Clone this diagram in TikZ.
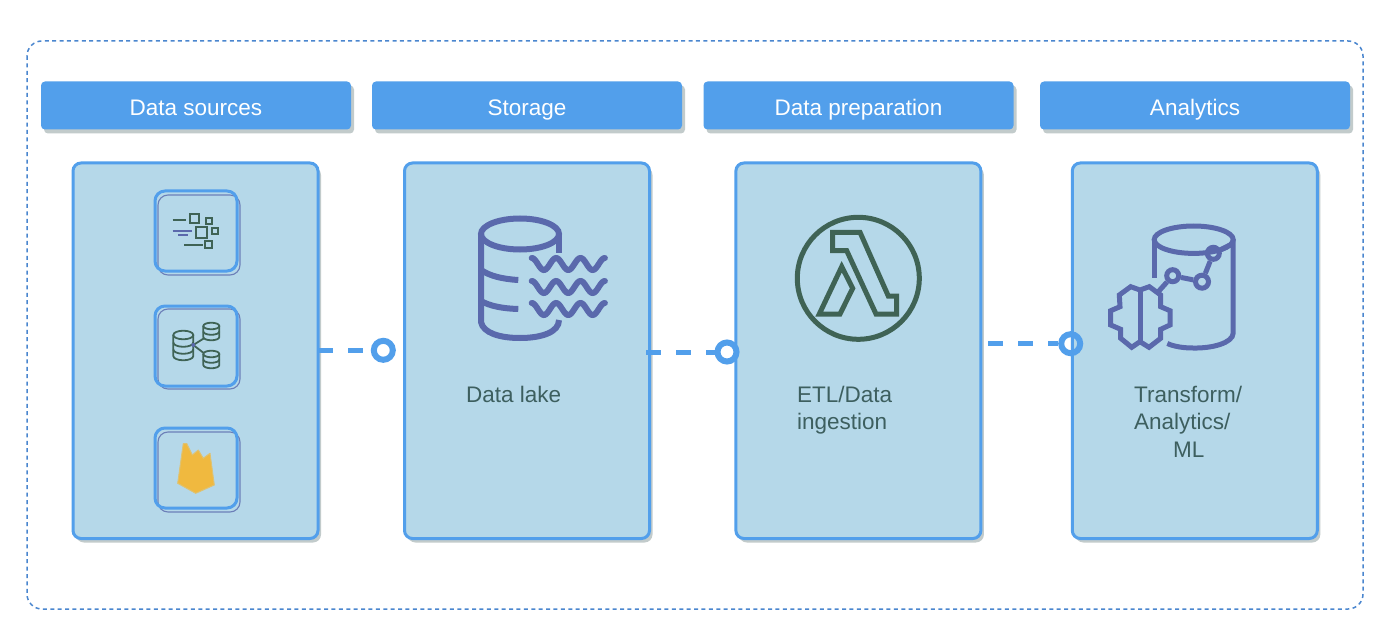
\documentclass[tikz,border=0pt]{standalone}
\usepackage{fontspec}
\setmainfont{Liberation Sans}
\usetikzlibrary{shadows}
\definecolor{hblue}{HTML}{529FEB}
\definecolor{pane}{HTML}{B5D8E9}
\definecolor{iconblue}{HTML}{5A69AC}
\definecolor{icongreen}{HTML}{3F6355}
\definecolor{flame}{HTML}{F0B93F}
\definecolor{shade}{HTML}{C2CBCB}
\definecolor{dashblue}{HTML}{4A86CF}
\definecolor{inktext}{HTML}{3D5F5F}
\tikzset{
  x=1pt,y=-1pt,
  header/.style={rectangle,rounded corners=4pt,fill=hblue,minimum width=310pt,minimum height=48pt,inner sep=0pt,text=white,text height=21pt,text depth=0pt,font=\fontsize{22.5}{27}\selectfont,general shadow={shadow xshift=3pt,shadow yshift=-4pt,fill=shade}},
  panel/.style={rectangle,rounded corners=8pt,draw=hblue,line width=3pt,fill=pane,minimum width=245pt,minimum height=375.5pt,inner sep=0pt,general shadow={shadow xshift=3pt,shadow yshift=-4pt,fill=shade}},
  iconbox/.style={rectangle,rounded corners=10pt,draw=hblue,line width=3pt,minimum width=82pt,minimum height=80pt,inner sep=0pt},
  iconback/.style={rectangle,rounded corners=10pt,draw=iconblue!80!pane,line width=1.1pt,minimum width=82pt,minimum height=80pt,inner sep=0pt},
  label/.style={text=inktext,font=\fontsize{22.5}{27.5}\selectfont,inner sep=0pt},
  link/.style={draw=hblue,line width=5pt,dash pattern=on 15pt off 15pt},
  port/.style={circle,draw=hblue,line width=6pt,minimum size=19pt,inner sep=0pt},
  thickblue/.style={draw=iconblue,line width=6pt,line cap=butt},
  thickgreen/.style={draw=icongreen,line width=5pt,line join=miter},
  smallgreen/.style={draw=icongreen,line width=2pt},
  smallblue/.style={draw=iconblue,line width=2pt},
  ringnode/.style={draw=iconblue,line width=5pt,circle,inner sep=0pt},
}
\begin{document}
\begin{tikzpicture}
\useasboundingbox (0,0) rectangle (1400,631);
\fill[white] (0,0) rectangle (1400,631);
\draw[dashblue,line width=1.5pt,rounded corners=15pt,dash pattern=on 4pt off 3.4pt] (27,41) rectangle (1363,609);

\node[header] (h1) at (196,105.5) {Data sources};
\node[header] (h2) at (527,105.5) {Storage};
\node[header] (h3) at (858.5,105.5) {Data preparation};
\node[header] (h4) at (1195,105.5) {Analytics};

\node[panel] (p1) at (195.5,350.75) {};
\node[panel] (p2) at (527,350.75) {};
\node[panel] (p3) at (858.4,350.75) {};
\node[panel] (p4) at (1194.8,350.75) {};

% icon boxes
\node[iconback] (b1s) at (199,235) {};
\node[iconback] (b2s) at (199,349) {};
\node[iconback] (b3s) at (199,472) {};
\node[iconbox] (b1) at (196,231) {};
\node[iconbox] (b2) at (196,346) {};
\node[iconbox] (b3) at (196,468) {};

% stream icon
\draw[smallgreen] (172.7,220)--(186,220);
\draw[smallgreen] (190,214.3) rectangle (199,223.3);
\draw[smallgreen] (206.3,218.3) rectangle (212.3,224.3);
\draw[smallblue] (172.7,231)--(192.3,231);
\draw[smallblue] (178.3,235.3)--(188.3,235.3);
\draw[smallgreen] (196.3,227.3) rectangle (206.7,237.7);
\draw[smallgreen] (211.7,228.3) rectangle (217.7,234.3);
\draw[smallgreen] (184,244.7)--(202.7,244.7);
\draw[smallgreen] (205.3,241.3) rectangle (212.3,248.3);

% databases icon
\begin{scope}[draw=icongreen,line width=1.8pt]
\draw (183.3,335) ellipse [x radius=10,y radius=4.3];
\draw (173.3,335)--(173.3,356) arc[start angle=180,end angle=360,x radius=10,y radius=-4.3]--(193.3,335);
\draw (173.3,342.5) arc[start angle=180,end angle=360,x radius=10,y radius=-4.3];
\draw (173.3,349.5) arc[start angle=180,end angle=360,x radius=10,y radius=-4.3];
\foreach \cy in {326,354}{
  \draw (211.3,\cy) ellipse [x radius=8,y radius=3.3];
  \draw (203.3,\cy)--(203.3,\cy+11) arc[start angle=180,end angle=360,x radius=8,y radius=-3.3]--(219.3,\cy);
  \draw (203.3,\cy+5.5) arc[start angle=180,end angle=360,x radius=8,y radius=-3.3];
}
\draw (193.3,345)--(204,338.3);
\draw (193.3,345)--(203.3,352.7);
\end{scope}
\fill[iconblue] (193.3,345) circle [radius=2];

% flame
\fill[flame,draw=flame!70!pane,line width=1pt,line join=round] (177.7,483.3)--(183.3,443.5)--(186.7,443.5)--(192.3,455)--(198.3,450)--(203.3,458.3)--(210,453.3)--(214.3,485)--(195.7,493.3)--cycle;

% data lake icon
\begin{scope}[thickblue]
\draw (520,234) ellipse [x radius=39,y radius=15.5];
\draw (481,234)--(481,322) .. controls (483,333) and (500,338) .. (520,338) .. controls (542,338) and (559,332) .. (559,320);
\draw (559,234)--(559,253);
\draw (481,270) .. controls (490,276) and (502,279) .. (518.3,280);
\draw (481,301) .. controls (490,306) and (502,308.5) .. (518.3,309);
\foreach \wy in {264,287,309}
  \draw[line cap=round] plot[domain=0:3,samples=80,smooth] ({531.7+24.4*\x},{\wy-6*cos(360*\x)});
\end{scope}

% lambda icon
\begin{scope}[thickgreen]
\draw (858.3,278.3) circle [radius=61];
\draw (832.7,232.3)--(860,232.3)--(888.3,296)--(896.7,296)--(896.7,314)--(876,314)--(846.7,250.7)--(832.7,250.7)--cycle;
\draw (841.7,266.7)--(852.7,288.3)--(840,314)--(819.3,314)--cycle;
\end{scope}

% analytics icon
\begin{scope}[draw=iconblue,line width=5pt]
\draw (1193.7,239.7) ellipse [x radius=39.5,y radius=13.7];
\draw (1154.2,239.7)--(1154.2,278);
\draw (1233.2,239.7)--(1233.2,333) .. controls (1233,343) and (1212,348.5) .. (1193,348) .. controls (1183,348) and (1174,346.5) .. (1167.3,343.5);
\node[ringnode,minimum size=12pt] (n1) at (1172.7,275.7) {};
\node[ringnode,minimum size=13pt] (n2) at (1202,281.7) {};
\node[ringnode,minimum size=12pt] (n3) at (1213.3,253.3) {};
\draw (n1)--(n2);
\draw (n2)--(n3);
\draw (n3)--(1230,245);
\draw (n1)--(1158,292);
\draw[line join=miter] (1140,290)--(1130.7,286.7)--(1119.3,295)--(1120,306.7)--(1110.7,310.7)--(1110.7,325)--(1120.7,329.3)--(1120.7,338.3)--(1131.7,347.3)--(1140,341.7)--(1149,347.3)--(1160.7,338.3)--(1160.7,329.3)--(1170,325)--(1170,310.7)--(1160.7,306.7)--(1160.7,295)--(1149.3,286.7)--cycle;
\draw (1140,290)--(1140,343);
\end{scope}

% labels
\node[label,anchor=base west] (t1) at (466,402) {Data lake};
\node[label,anchor=base west] (t2) at (797,402) {ETL/Data};
\node[label,anchor=base west] (t3) at (797,429) {ingestion};
\node[label,anchor=base west] (t4) at (1134,402) {Transform/};
\node[label,anchor=base west] (t5) at (1134,429) {Analytics/};
\node[label,anchor=base west] (t6) at (1173,457) {ML};

% connectors
\node[port] (c1) at (383.3,350.3) {};
\node[port] (c2) at (727,352) {};
\node[port] (c3) at (1070.7,343.7) {};
\coordinate (s1) at (318,350.3);
\coordinate (s2) at (646,352);
\coordinate (s3) at (988,343.7);
\draw[link] (s1)--(c1.west);
\draw[link] (s2)--(c2.west);
\draw[link] (s3)--(c3.west);
\end{tikzpicture}
\end{document}
